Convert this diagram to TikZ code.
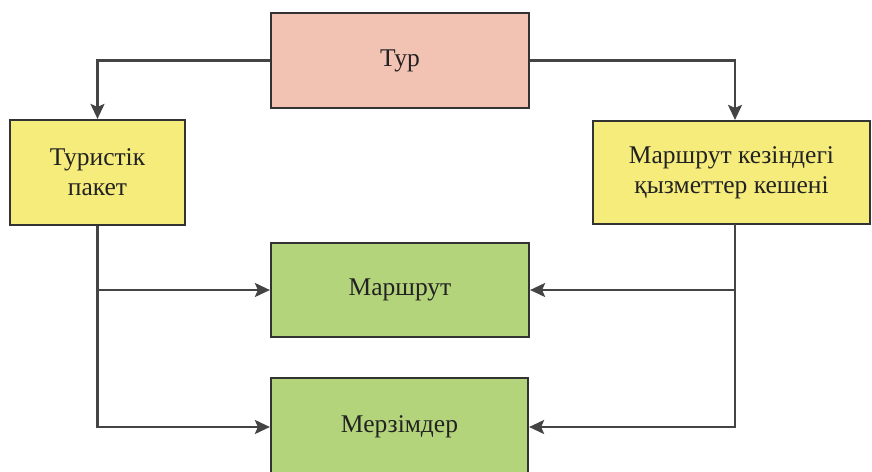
\documentclass[tikz,border=0pt]{standalone}
\usepackage{fontspec}
\setmainfont{Liberation Serif}
\usetikzlibrary{arrows.meta}
\definecolor{pinkfill}{HTML}{F2C3B3}
\definecolor{yelfill}{HTML}{F5EC7C}
\definecolor{grnfill}{HTML}{B3D47B}
\definecolor{edge}{HTML}{333333}
\definecolor{wire}{HTML}{444444}
\definecolor{txt}{HTML}{222222}
\begin{document}
\begin{tikzpicture}[x=1pt,y=-1pt,
  box/.style={draw=edge,line width=2.2pt,inner sep=0pt,align=center,
    font=\fontsize{25.5}{30}\selectfont,text=txt},
  conn/.style={draw=wire,line width=2.4pt},
  arr/.style={conn,-{Stealth[length=15pt,width=14pt,inset=3pt]}}]
\useasboundingbox (0,0) rectangle (872,471);
\node[box,fill=pinkfill,minimum width=258pt,minimum height=95pt] (tur) at (400,60.5) {Тур};
\node[box,fill=yelfill,minimum width=175pt,minimum height=105pt] (pak) at (97.5,172.5) {Туристік\\пакет};
\node[box,fill=yelfill,minimum width=277pt,minimum height=103pt] (ser) at (731.5,172.5) {Маршрут кезіндегі\\қызметтер кешені};
\node[box,fill=grnfill,minimum width=258pt,minimum height=94pt] (mar) at (400,290) {Маршрут};
\node[box,fill=grnfill,minimum width=257pt,minimum height=98pt] (mer) at (399.5,427) {Мерзімдер};
\coordinate (rtop) at (735,60.5);
\coordinate (rbot) at (735,224);
\coordinate (lmid) at (97.5,290);
\coordinate (rmid) at (735,290);
\draw[arr] (tur.west) -| (pak.north);
\draw[arr] (tur.east) -- (rtop) -- (rtop |- ser.north);
\draw[arr] (pak.south) |- (mer.west);
\draw[arr] (lmid) -- (mar.west);
\draw[arr] (rbot) |- (mer.east);
\draw[arr] (rmid) -- (mar.east);
\end{tikzpicture}
\end{document}
